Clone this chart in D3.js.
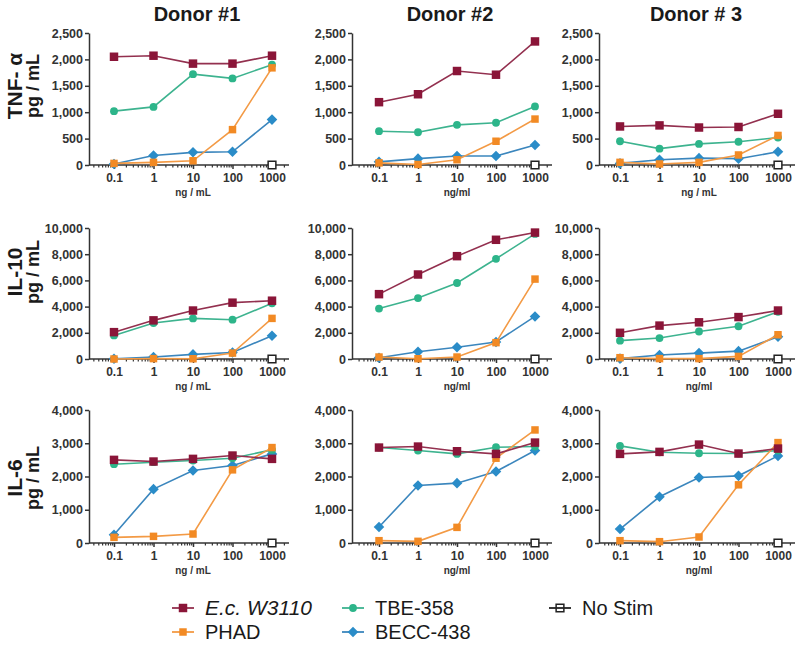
<!DOCTYPE html>
<html><head><meta charset="utf-8">
<script src="https://cdn.jsdelivr.net/npm/d3@7"></script>
<style>body{margin:0;background:#fff}svg{display:block}text{font-family:"Liberation Sans",Arial,sans-serif}</style>
</head><body><svg id="c" width="800" height="648"></svg>
<script>
// ---------- data ----------
const concentrations = [0.1, 1, 10, 100, 1000];
const donors = ["Donor #1", "Donor #2", "Donor # 3"];
const cytokines = ["TNF- α", "IL-10", "IL-6"];
const unitLabel = "pg / mL";
const yMax = [2500, 10000, 4000];
const yTicksTNF = [0, 500, 1000, 1500, 2000, 2500];
const yTicksIL10 = [0, 2000, 4000, 6000, 8000, 10000];
const yTicksIL6 = [0, 1000, 2000, 3000, 4000];
const xTitlesTNF = ["ng / mL", "ng/ml", "ng / mL"];
const xTitlesIL10 = ["ng / mL", "ng/ml", "ng/ml"];
const xTitlesIL6 = ["ng / mL", "ng/ml", "ng/ml"];
const seriesNames = ["E.c. W3110", "PHAD", "TBE-358", "BECC-438", "No Stim"];

// TNF-α  [donor1, donor2, donor3]
const ecTNF   = [[2050, 2070, 1920, 1920, 2070], [1190, 1340, 1780, 1710, 2340], [730, 750, 710, 720, 970]];
const phadTNF = [[30, 50, 80, 670, 1840], [40, 10, 100, 450, 870], [50, 20, 50, 190, 560]];
const tbeTNF  = [[1020, 1100, 1720, 1640, 1900], [640, 620, 760, 800, 1110], [450, 310, 400, 440, 520]];
const beccTNF = [[20, 180, 240, 250, 860], [60, 120, 170, 170, 380], [30, 100, 130, 120, 250]];
// IL-10
const ecIL10   = [[2050, 2950, 3700, 4300, 4450], [4950, 6450, 7850, 9100, 9650], [2000, 2550, 2800, 3200, 3700]];
const phadIL10 = [[0, 30, 20, 450, 3100], [150, 20, 150, 1250, 6100], [100, 30, 30, 200, 1850]];
const tbeIL10  = [[1800, 2750, 3100, 3000, 4250], [3850, 4650, 5800, 7650, 9550], [1400, 1600, 2100, 2500, 3600]];
const beccIL10 = [[20, 150, 350, 500, 1780], [100, 550, 900, 1300, 3250], [30, 300, 450, 600, 1700]];
// IL-6
const ecIL6   = [[2500, 2450, 2530, 2630, 2530], [2870, 2900, 2760, 2680, 3020], [2680, 2740, 2960, 2690, 2840]];
const phadIL6 = [[170, 200, 270, 2200, 2870], [70, 50, 470, 2550, 3400], [70, 40, 180, 1750, 3020]];
const tbeIL6  = [[2370, 2430, 2480, 2550, 2800], [2870, 2780, 2680, 2880, 2900], [2920, 2730, 2700, 2690, 2780]];
const beccIL6 = [[250, 1620, 2180, 2330, 2680], [480, 1730, 1800, 2150, 2780], [420, 1390, 1970, 2020, 2620]];
// No Stim (only measured at top dose)
const noStimConc = [1000];
const noStimVal = [0];

// ---------- layout ----------
const colAxisX = [89, 352, 599];
const colX01 = [114, 379, 620];
const colX1000 = [272, 535, 778];
const rowTop = [33, 228, 410];
const rowBottom = [165, 359, 543];
const rowLabelY = [86, 272, 478];
const titleX = [197, 450, 696];

const colors = {ec: "#8a1538", phad: "#f28a24", tbe: "#2db58a", becc: "#2a8cc8", none: "#222"};
const lineColors = {ec: "#93304f", phad: "#f39a45", tbe: "#3db38f", becc: "#3b86bd"};

const svg = d3.select("#c");

const rows = [
  {ticks: yTicksTNF, titles: xTitlesTNF, ec: ecTNF, phad: phadTNF, tbe: tbeTNF, becc: beccTNF},
  {ticks: yTicksIL10, titles: xTitlesIL10, ec: ecIL10, phad: phadIL10, tbe: tbeIL10, becc: beccIL10},
  {ticks: yTicksIL6, titles: xTitlesIL6, ec: ecIL6, phad: phadIL6, tbe: tbeIL6, becc: beccIL6}
];

const minorTicks = [];
for (let e = -2; e <= 3; e++) for (let m = 2; m <= 9; m++) minorTicks.push(m * Math.pow(10, e));

const squareDiamond = {
  draw(ctx, size) {
    const r = Math.sqrt(size / 2);
    ctx.moveTo(0, -r); ctx.lineTo(r, 0); ctx.lineTo(0, r); ctx.lineTo(-r, 0); ctx.closePath();
  }
};
const sym = {
  ec: d3.symbol().type(d3.symbolSquare).size(72),
  phad: d3.symbol().type(d3.symbolSquare).size(56),
  tbe: d3.symbol().type(d3.symbolCircle).size(48),
  becc: d3.symbol().type(squareDiamond).size(56),
  none: d3.symbol().type(d3.symbolSquare).size(60)
};

// column titles
donors.forEach((d, c) => {
  svg.append("text").attr("x", titleX[c]).attr("y", 21).attr("text-anchor", "middle")
    .attr("font-size", 20).attr("font-weight", "bold").attr("fill", "#1a1a1a").text(d);
});

rows.forEach((row, r) => {
  // row labels
  svg.append("text").attr("transform", `translate(22,${rowLabelY[r]}) rotate(-90)`)
    .attr("text-anchor", "middle").attr("font-size", 21).attr("font-weight", "bold").attr("fill", "#1a1a1a")
    .text(cytokines[r]);
  svg.append("text").attr("transform", `translate(39,${rowLabelY[r]}) rotate(-90)`)
    .attr("text-anchor", "middle").attr("font-size", 18).attr("font-weight", "bold").attr("fill", "#1a1a1a")
    .text(unitLabel);

  for (let c = 0; c < 3; c++) {
    const x = d3.scaleLog().domain([0.1, 1000]).range([colX01[c], colX1000[c]]);
    const y = d3.scaleLinear().domain([0, yMax[r]]).range([rowBottom[r], rowTop[r]]);
    const g = svg.append("g");
    const xEnd = x(1000) + 17;
    const xStart = colAxisX[c];

    // y axis
    const ya = g.append("g").attr("transform", `translate(${xStart},0)`)
      .call(d3.axisLeft(y).tickValues(row.ticks).tickFormat(d3.format(",")).tickSize(4).tickSizeOuter(0));
    ya.select(".domain").attr("stroke", "#333").attr("stroke-width", 1.5);
    ya.selectAll(".tick line").attr("stroke", "#333").attr("stroke-width", 1.5);
    ya.selectAll("text").attr("font-size", 12.5).attr("font-weight", "bold").attr("fill", "#333")
      .attr("font-family", "Liberation Sans, Arial, sans-serif").attr("x", -6);

    // x axis (log) major and minor
    const xa = g.append("g").attr("transform", `translate(0,${rowBottom[r]})`)
      .call(d3.axisBottom(x).tickValues(concentrations).tickFormat(d3.format("~g")).tickSize(4).tickSizeOuter(0));
    xa.select(".domain").remove();
    xa.selectAll(".tick line").attr("stroke", "#333").attr("stroke-width", 1.5);
    xa.selectAll("text").attr("font-size", 12).attr("font-weight", "bold").attr("fill", "#333")
      .attr("font-family", "Liberation Sans, Arial, sans-serif").attr("y", 8);
    const minor = minorTicks.filter(v => x(v) > xStart + 2 && x(v) < xEnd);
    const xm = g.append("g").attr("transform", `translate(0,${rowBottom[r]})`)
      .call(d3.axisBottom(x).tickValues(minor).tickFormat("").tickSize(2.5).tickSizeOuter(0));
    xm.select(".domain").remove();
    xm.selectAll(".tick line").attr("stroke", "#333").attr("stroke-width", 1.2);
    g.append("line").attr("x1", xStart).attr("x2", xEnd).attr("y1", rowBottom[r]).attr("y2", rowBottom[r])
      .attr("stroke", "#333").attr("stroke-width", 1.5);

    // x title
    g.append("text").attr("x", (x(0.1) + x(1000)) / 2).attr("y", rowBottom[r] + 31).attr("text-anchor", "middle")
      .attr("font-size", 10).attr("font-weight", "bold").attr("fill", "#333").text(row.titles[c]);

    const line = d3.line().x((d, i) => x(concentrations[i])).y(d => y(d));
    ["becc", "tbe", "phad", "ec"].forEach(k => {
      const vals = row[k][c];
      g.append("path").attr("d", line(vals)).attr("fill", "none")
        .attr("stroke", lineColors[k]).attr("stroke-width", 1.6);
      g.selectAll(null).data(vals).enter().append("path")
        .attr("d", sym[k]).attr("transform", (d, i) => `translate(${x(concentrations[i])},${y(d)})`)
        .attr("fill", colors[k]);
    });
    // no stim
    g.selectAll(null).data(noStimVal).enter().append("path")
      .attr("d", sym.none).attr("transform", (d, i) => `translate(${x(noStimConc[i])},${y(d)})`)
      .attr("fill", "#fff").attr("stroke", colors.none).attr("stroke-width", 1.5);
  }
});

// legend
const legendItems = [
  {k: "ec", name: seriesNames[0], x: 183, y: 608, italic: true},
  {k: "phad", name: seriesNames[1], x: 183, y: 632},
  {k: "tbe", name: seriesNames[2], x: 353, y: 608},
  {k: "becc", name: seriesNames[3], x: 353, y: 632},
  {k: "none", name: seriesNames[4], x: 560, y: 608}
];
const lg = svg.append("g");
legendItems.forEach(it => {
  lg.append("line").attr("x1", it.x - 11).attr("x2", it.x + 11).attr("y1", it.y).attr("y2", it.y)
    .attr("stroke", it.k === "none" ? "#222" : lineColors[it.k]).attr("stroke-width", 1.8);
  lg.append("path").attr("d", sym[it.k]).attr("transform", `translate(${it.x},${it.y})`)
    .attr("fill", it.k === "none" ? "none" : colors[it.k])
    .attr("stroke", it.k === "none" ? "#222" : "none").attr("stroke-width", 1.5);
  lg.append("text").attr("x", it.x + 22).attr("y", it.y + 7).attr("font-size", it.italic ? 21 : 20)
    .attr("font-style", it.italic ? "italic" : "normal").attr("fill", "#1a1a1a").text(it.name);
});
</script></body></html>
